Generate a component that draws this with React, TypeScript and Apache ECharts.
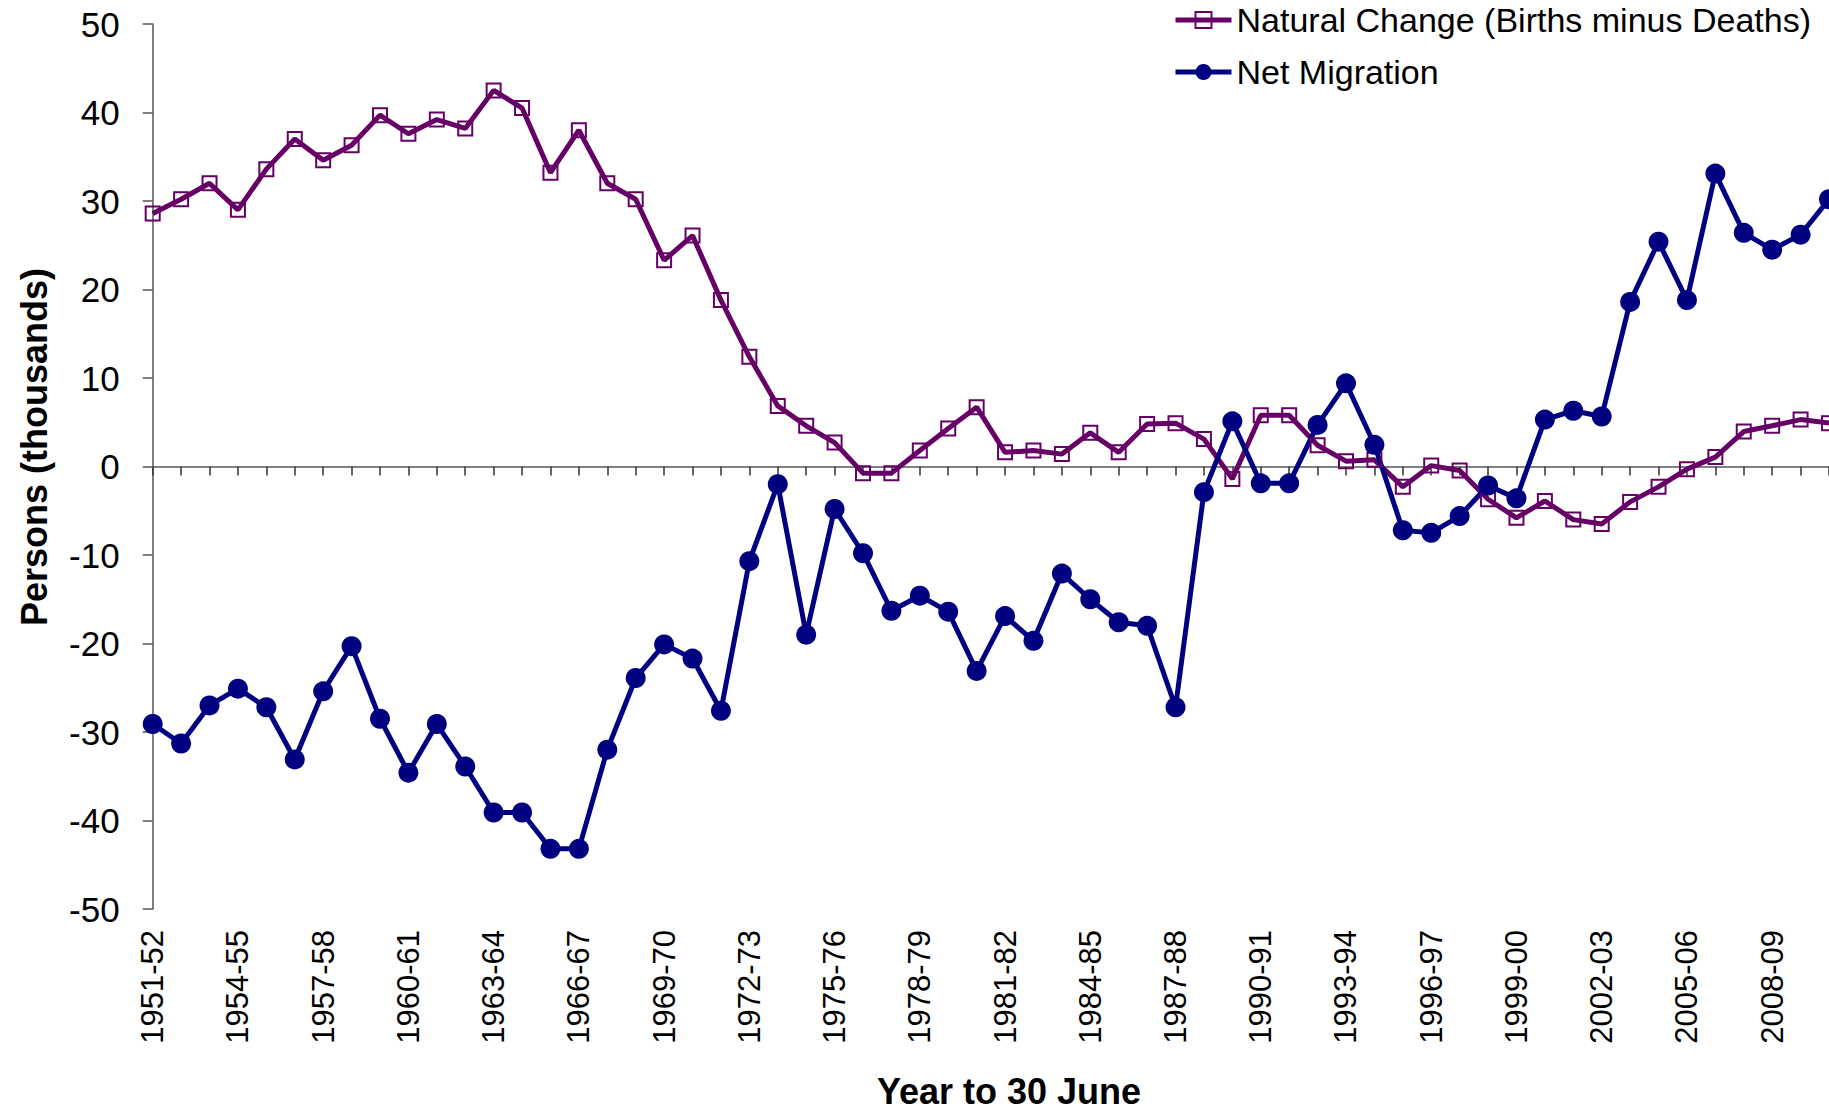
import React, { useEffect, useRef } from "react";
import * as echarts from "echarts";

const categories = [
  "1951-52", "1952-53", "1953-54", "1954-55", "1955-56", "1956-57", "1957-58", "1958-59", "1959-60", "1960-61",
  "1961-62", "1962-63", "1963-64", "1964-65", "1965-66", "1966-67", "1967-68", "1968-69", "1969-70", "1970-71",
  "1971-72", "1972-73", "1973-74", "1974-75", "1975-76", "1976-77", "1977-78", "1978-79", "1979-80", "1980-81",
  "1981-82", "1982-83", "1983-84", "1984-85", "1985-86", "1986-87", "1987-88", "1988-89", "1989-90", "1990-91",
  "1991-92", "1992-93", "1993-94", "1994-95", "1995-96", "1996-97", "1997-98", "1998-99", "1999-00", "2000-01",
  "2001-02", "2002-03", "2003-04", "2004-05", "2005-06", "2006-07", "2007-08", "2008-09", "2009-10", "2010-11",
];

const naturalChange = [
  28.6, 30.2, 32.0, 29.0, 33.6, 37.0, 34.6, 36.3, 39.7, 37.6,
  39.2, 38.2, 42.5, 40.5, 33.2, 38.0, 32.0, 30.2, 23.3, 26.1,
  18.8, 12.4, 6.85, 4.6, 2.7, -0.75, -0.75, 1.8, 4.3, 6.7,
  1.6, 1.8, 1.4, 3.8, 1.6, 4.8, 4.9, 3.1, -1.4, 5.8,
  5.8, 2.4, 0.6, 0.75, -2.3, 0.1, -0.45, -3.7, -5.8, -3.9,
  -6.0, -6.5, -4.0, -2.3, -0.3, 1.06, 3.95, 4.6, 5.3, 4.9,
];

const netMigration = [
  -29.1, -31.3, -27.0, -25.1, -27.2, -33.1, -25.4, -20.3, -28.5, -34.6,
  -29.1, -33.9, -39.1, -39.1, -43.2, -43.2, -32.0, -23.9, -20.1, -21.7,
  -27.6, -10.7, -2.0, -19.0, -4.8, -9.8, -16.3, -14.6, -16.4, -23.1,
  -16.9, -19.7, -12.1, -15.0, -17.6, -18.0, -27.2, -2.9, 5.1, -1.9,
  -1.9, 4.7, 9.4, 2.45, -7.2, -7.5, -5.6, -2.15, -3.6, 5.3,
  6.3, 5.65, 18.6, 25.4, 18.8, 33.1, 26.4, 24.5, 26.2, 30.2,
];

const seriesNames = ["Natural Change (Births minus Deaths)", "Net Migration"];
const yTitle = "Persons (thousands)";
const xTitle = "Year to 30 June";

const FONT = "'Liberation Sans', Arial, sans-serif";
const PURPLE = "#660066";
const NAVY = "#000080";

export default function App() {
  const ref = useRef<HTMLDivElement>(null);
  useEffect(() => {
    if (!ref.current) return;
    const chart = echarts.init(ref.current, null, { renderer: "svg" });
    chart.setOption({
      animation: false,
      backgroundColor: "#ffffff",
      grid: { left: 152.7, top: 24, right: 0, bottom: 203, containLabel: false },
      legend: {
        orient: "vertical",
        left: 1168,
        top: -2,
        itemWidth: 56,
        itemHeight: 20,
        itemGap: 18,
        lineStyle: { width: 5 },
        textStyle: { fontFamily: FONT, fontSize: 34, color: "#000", lineHeight: 34 },
        data: seriesNames,
      },
      xAxis: [
        {
          type: "category",
          data: categories,
          boundaryGap: false,
          position: "bottom",
          axisLine: { show: false, onZero: false },
          axisTick: { show: false },
          axisLabel: {
            interval: 2,
            rotate: 90,
            margin: 21,
            fontFamily: FONT,
            fontSize: 31,
            color: "#000",
          },
          splitLine: { show: false },
        },
        {
          type: "category",
          data: categories,
          boundaryGap: false,
          position: "bottom",
          axisLine: { show: true, onZero: true, lineStyle: { color: "#808080", width: 2 } },
          axisTick: { show: true, inside: false, interval: 0, length: 9, lineStyle: { color: "#333", width: 1.5 } },
          axisLabel: { show: false },
          splitLine: { show: false },
        },
      ],
      yAxis: {
        type: "value",
        min: -50,
        max: 50,
        interval: 10,
        axisLine: { show: true, lineStyle: { color: "#555", width: 1.5 } },
        axisTick: { show: true, inside: false, length: 10, lineStyle: { color: "#555", width: 1.5 } },
        axisLabel: { margin: 33, fontFamily: FONT, fontSize: 35, color: "#000" },
        splitLine: { show: false },
      },
      graphic: [
        {
          type: "text",
          x: 34,
          y: 447,
          rotation: Math.PI / 2,
          style: {
            text: yTitle,
            fontFamily: FONT,
            fontSize: 36,
            fontWeight: "bold",
            fill: "#000",
            align: "center",
            verticalAlign: "middle",
          },
        },
        {
          type: "text",
          x: 1009,
          y: 1091,
          style: {
            text: xTitle,
            fontFamily: FONT,
            fontSize: 36,
            fontWeight: "bold",
            fill: "#000",
            align: "center",
            verticalAlign: "middle",
          },
        },
      ],
      series: [
        {
          name: seriesNames[0],
          type: "line",
          xAxisIndex: 0,
          data: naturalChange,
          symbol: "rect",
          symbolSize: 14,
          showAllSymbol: true,
          lineStyle: { color: PURPLE, width: 5 },
          itemStyle: { color: "rgba(255,255,255,0)", borderColor: PURPLE, borderWidth: 2 },
        },
        {
          name: seriesNames[1],
          type: "line",
          xAxisIndex: 0,
          data: netMigration,
          symbol: "circle",
          symbolSize: 20,
          showAllSymbol: true,
          lineStyle: { color: NAVY, width: 5 },
          itemStyle: { color: NAVY },
        },
      ],
    });
    return () => chart.dispose();
  }, []);
  return (
    <div
      ref={ref}
      style={{ position: "fixed", left: 0, top: 0, width: 1829, height: 1112, background: "#fff" }}
    />
  );
}
